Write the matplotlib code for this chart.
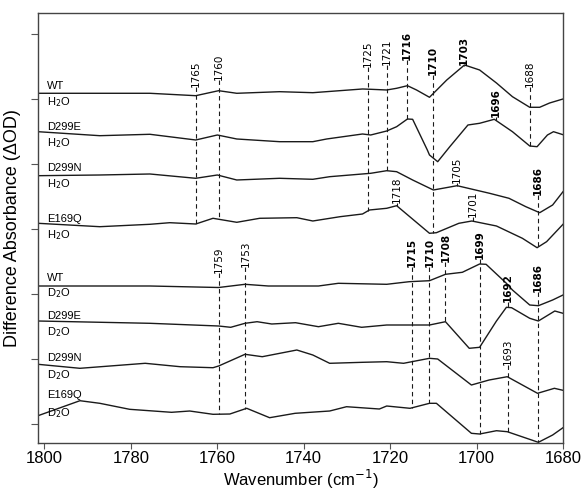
import numpy as np
import matplotlib
matplotlib.use("Agg")
import matplotlib.pyplot as plt

# difference spectra, relative absorbance per trace (wavenumber, dA)
wt_h2o_wn = [1801.5, 1787, 1775.6, 1765, 1759.7, 1755.5, 1745.6, 1737.9, 1726.4, 1724.5, 1720.8, 1718.5,
             1716, 1713.9, 1710.9, 1706.9, 1702.8, 1699.3, 1695.4, 1691.7, 1687.7, 1685.4, 1683.1, 1680]
wt_h2o_da = [0, 0, 0, -0.24, 0.26, 0, 0.16, 0.06, 0.43, 0.4, 0.33, 0.5,
             0.76, 0.33, -0.4, 1.33, 2.83, 2.33, 1.03, -0.34, -1.4, -1.4, -0.97, -0.57]

d299e_h2o_wn = [1801.5, 1787.2, 1775.6, 1765, 1760, 1755.5, 1745.6, 1737.9, 1734.7, 1726.4, 1724.5, 1720.8,
                1718.5, 1716, 1714.8, 1711.4, 1710.9, 1709, 1706.2, 1702, 1699.3, 1695.9, 1691.7, 1687.7,
                1686, 1683.6, 1682.2, 1680]
d299e_h2o_da = [0, -0.4, -0.26, -0.83, -0.33, -0.73, -1.0, -1.0, -0.73, -0.23, -0.33, 0.07,
                0.5, 1.27, 1.24, -1.83, -2.33, -3.0, -1.5, 0.67, 0.84, 1.24, 0, -1.43,
                -1.5, -0.33, 0, -0.3]

d299n_h2o_wn = [1801.5, 1787.2, 1775.6, 1765, 1760, 1755.5, 1745.6, 1737.9, 1734, 1724.5, 1720.8, 1718.5,
                1714.8, 1710, 1704.5, 1697, 1692.5, 1688.6, 1685.4, 1682.4, 1680]
d299n_h2o_da = [0, 0.07, 0.17, -0.26, 0.07, -0.43, -0.26, -0.36, -0.1, 0.24, 0.5, 0.4,
                -0.43, -1.43, -1.0, -1.76, -2.26, -3.1, -3.7, -2.93, -1.6]

e169q_h2o_wn = [1801.5, 1787.2, 1775.6, 1771, 1765, 1761, 1755.5, 1750.2, 1741.6, 1737.9, 1731.6, 1726.4,
                1724.8, 1720.8, 1718.5, 1710.9, 1709.3, 1704.1, 1701.1, 1695.4, 1689.4, 1686, 1683.8, 1680]
e169q_h2o_da = [0, -0.34, -0.1, 0.06, -0.07, 0.5, 0.1, 0.5, 0.56, 0.23, 0.66, 0.93,
                1.33, 1.5, 1.76, -1.0, -0.94, 0, 0.23, -0.27, -1.5, -2.44, -1.84, -0.1]

wt_d2o_wn = [1801.5, 1775.6, 1759.7, 1753.6, 1748.2, 1736.6, 1732, 1720.8, 1715.6, 1710.9, 1707.2, 1703.3,
             1699.3, 1697.8, 1693.1, 1691.7, 1687.7, 1685.7, 1682.4, 1680]
wt_d2o_da = [0, 0, -0.15, 0.17, 0, 0, 0.27, 0.17, 0.43, 0.53, 1.17, 1.37,
             2.2, 2.17, 0.27, -0.4, -1.9, -1.97, -1.4, -0.9]

d299e_d2o_wn = [1801.5, 1775.6, 1759.7, 1756.9, 1753.6, 1750.8, 1747.4, 1741.9, 1736.6, 1732, 1726.6, 1720.8,
                1710.9, 1707.2, 1701.7, 1699.3, 1695.4, 1693.1, 1691.9, 1687.7, 1685.7, 1681.9, 1680]
d299e_d2o_da = [0, -0.23, -0.5, -0.63, -0.23, -0.07, -0.3, -0.17, -0.57, -0.23, -0.63, -0.4,
                -0.4, -0.07, -2.73, -2.63, 0, 1.37, 1.33, 0.27, 0, 1.0, 0.77]

d299n_d2o_wn = [1801.5, 1791.8, 1776.7, 1768.6, 1761, 1759.7, 1753.6, 1749.6, 1741.6, 1737.9, 1734, 1726.4,
                1720.8, 1716.9, 1710.9, 1709, 1701.2, 1697.1, 1692.9, 1689.4, 1685.9, 1682, 1680]
d299n_d2o_da = [0, -0.4, 0.1, -0.24, -0.34, -0.17, 1.0, 0.76, 1.43, 0.93, 0.1, 0.2,
                0.26, 0.1, 0.6, 0.53, -2.07, -1.57, -1.24, -2.07, -2.9, -2.4, -2.6]

e169q_d2o_wn = [1801.5, 1791.8, 1787.2, 1780.3, 1770.6, 1766.4, 1761, 1757.1, 1753.2, 1747.9, 1742, 1734,
                1730.1, 1722.5, 1720.8, 1715.4, 1710.9, 1709.3, 1701.2, 1699.3, 1695.4, 1692.9, 1685.7,
                1682.4, 1680]
e169q_d2o_da = [0, 1.5, 1.24, 0.64, 0.34, 0.47, 0.14, 0.17, 0.74, -0.2, 0.24, 0.47,
                0.9, 0.67, 0.97, 0.74, 1.24, 1.24, -1.76, -1.83, -1.5, -1.6, -2.66,
                -1.93, -1.2]

names = ["WT", "D299E", "D299N", "E169Q", "WT", "D299E", "D299N", "E169Q"]
solvents = ["H$_2$O"] * 4 + ["D$_2$O"] * 4
offsets = [33.07, 29.23, 24.83, 20.07, 13.8, 10.3, 5.97, 0.83]
traces = [(wt_h2o_wn, wt_h2o_da), (d299e_h2o_wn, d299e_h2o_da), (d299n_h2o_wn, d299n_h2o_da),
          (e169q_h2o_wn, e169q_h2o_da), (wt_d2o_wn, wt_d2o_da), (d299e_d2o_wn, d299e_d2o_da),
          (d299n_d2o_wn, d299n_d2o_da), (e169q_d2o_wn, e169q_d2o_da)]

# label positions (y) for the sample names / solvent
name_y = [33.8, 29.67, 25.57, 20.5, 14.63, 10.83, 6.57, 2.9]
solv_y = [32.23, 28.07, 23.97, 18.9, 13.07, 9.23, 4.9, 1.13]

# marked bands: position, text, bold, label bottom, trace where the dashed line ends
bands = [
    (1765, "1765", False, 33.7, 3),
    (1759.7, "1760", False, 34.4, 3),
    (1725.2, "1725", False, 35.7, 3),
    (1720.8, "1721", False, 35.9, 2),
    (1716.2, "1716", True, 36.4, 1),
    (1710.2, "1710", True, 34.9, 3),
    (1703.0, "1703", True, 35.9, 0),
    (1687.6, "1688", False, 33.7, 1),
    (1695.6, "1696", True, 30.7, 1),
    (1704.6, "1705", False, 24.1, 2),
    (1685.9, "1686", True, 22.9, 3),
    (1718.5, "1718", False, 22.1, 3),
    (1700.9, "1701", False, 20.7, 3),
    (1759.6, "1759", False, 15.1, 7),
    (1753.5, "1753", False, 15.7, 7),
    (1715.0, "1715", True, 15.7, 7),
    (1710.9, "1710", True, 15.7, 7),
    (1707.2, "1708", True, 16.2, 5),
    (1699.3, "1699", True, 16.5, 7),
    (1692.8, "1692", True, 12.2, 5),
    (1685.8, "1686", True, 13.2, 7),
    (1692.8, "1693", False, 5.9, 7),
]

fig = plt.figure(figsize=(5.83, 4.90), dpi=100)
ax = fig.add_axes([0.0652, 0.0959, 0.9005, 0.8776])

for (wn, da), off in zip(traces, offsets):
    ax.plot(wn, np.array(da) + off, color="#1a1a1a", lw=1.0)

for nm, sv, ny, sy in zip(names, solvents, name_y, solv_y):
    ax.text(1799.4, ny, nm, fontsize=8, family="Liberation Sans", va="center", ha="left")
    ax.text(1799.4, sy, sv, fontsize=8, family="Liberation Sans", va="center", ha="left")

for pos, txt, bold, top, idx in bands:
    wn, da = traces[idx]
    yend = np.interp(pos, wn[::-1], (np.array(da) + offsets[idx])[::-1])
    ax.plot([pos, pos], [top, yend], color="#1a1a1a", lw=0.8, dashes=(4, 3))
    ax.text(pos, top, txt, rotation=90, ha="center", va="bottom", fontsize=7.5,
            fontweight="bold" if bold else "normal", family="DejaVu Sans")

ax.set_xlim(1801.5, 1680)
ax.set_ylim(-1.9, 41.1)
ax.set_xticks([1800, 1780, 1760, 1740, 1720, 1700, 1680])
ax.set_yticks(np.arange(0, 40, 6.5))
ax.set_yticklabels([])
ax.tick_params(axis="x", length=4, pad=2, labelsize=12, color="#555555")
ax.tick_params(axis="y", length=5, color="#555555")
for lab in ax.get_xticklabels():
    lab.set_family("Liberation Sans")
for s in ax.spines.values():
    s.set_color("#444444")
    s.set_linewidth(1.0)

ax.set_xlabel("Wavenumber (cm$^{-1}$)", fontsize=12, family="Liberation Sans")
ax.xaxis.label.set_verticalalignment("baseline")
ax.xaxis.set_label_coords(0.5, -0.1)
ax.set_ylabel("Difference Absorbance (ΔOD)", fontsize=13, family="Liberation Sans")
ax.yaxis.set_label_coords(-0.032, 0.5)

fig.savefig("out.png", dpi=100)
